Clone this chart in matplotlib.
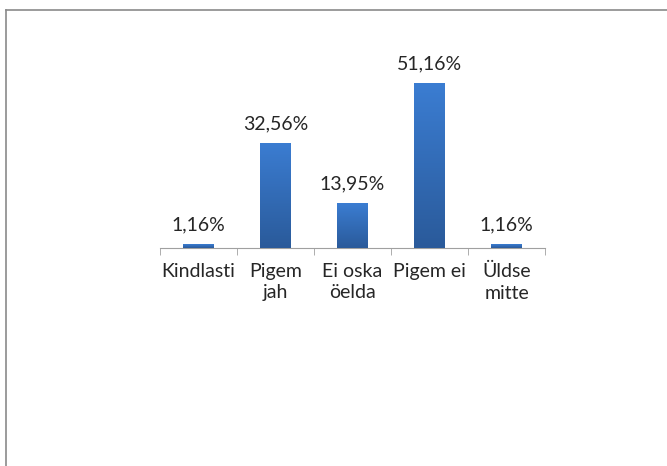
import numpy as np
import matplotlib
matplotlib.use('Agg')
import matplotlib.pyplot as plt
from matplotlib.lines import Line2D

categories = ['Kindlasti', 'Pigem\njah', 'Ei oska\nöelda', 'Pigem ei', 'Üldse\nmitte']
values = [1.16, 32.56, 13.95, 51.16, 1.16]
value_labels = ['1,16%', '32,56%', '13,95%', '51,16%', '1,16%']

plt.rcParams['font.family'] = ['Lato', 'DejaVu Sans']

fig = plt.figure(figsize=(6.67, 4.66), dpi=100)
ax = fig.add_axes([160/667, 1 - 248/466, 385/667, 193.5/466])

x = np.arange(len(categories))
bars = ax.bar(x, values, width=0.39, color='#3470c0', zorder=2)

# vertical gradient on each bar
grad = np.linspace(0, 1, 256).reshape(-1, 1)
cmap = matplotlib.colors.LinearSegmentedColormap.from_list('g', ['#2a5a9a', '#3b7dd2'])
for b in bars:
    x0, w, h = b.get_x(), b.get_width(), b.get_height()
    im = ax.imshow(grad, cmap=cmap, aspect='auto', origin='lower',
                   extent=(x0, x0 + w, 0, h), zorder=3)
    im.set_clip_path(b)

for xi, v, lab in zip(x, values, value_labels):
    ax.annotate(lab, (xi, v), xytext=(0, 10), textcoords='offset points',
                ha='center', va='baseline', fontsize=14, color='#262626')

ax.set_xlim(-0.5, len(categories) - 0.5)
ax.set_ylim(0, 60)
for s in ['top', 'right', 'left']:
    ax.spines[s].set_visible(False)
ax.spines['bottom'].set_color('#a0a0a0')
ax.set_yticks([])
ax.set_xticks(x)
ax.set_xticklabels(categories, fontsize=14, color='#262626', linespacing=1.3)
ax.tick_params(axis='x', length=0, pad=11)
# category boundary ticks
ax.set_xticks(np.arange(len(categories) + 1) - 0.5, minor=True)
ax.tick_params(axis='x', which='minor', length=5, color='#a0a0a0')

# outer frame (clipped at right and bottom in the original)
fig.add_artist(Line2D([6/667, 6/667], [0, 1 - 10/466], color='#8a8a8a', lw=1.2, transform=fig.transFigure))
fig.add_artist(Line2D([6/667, 1], [1 - 10/466, 1 - 10/466], color='#8a8a8a', lw=1.2, transform=fig.transFigure))

fig.savefig('out.png', dpi=100)
